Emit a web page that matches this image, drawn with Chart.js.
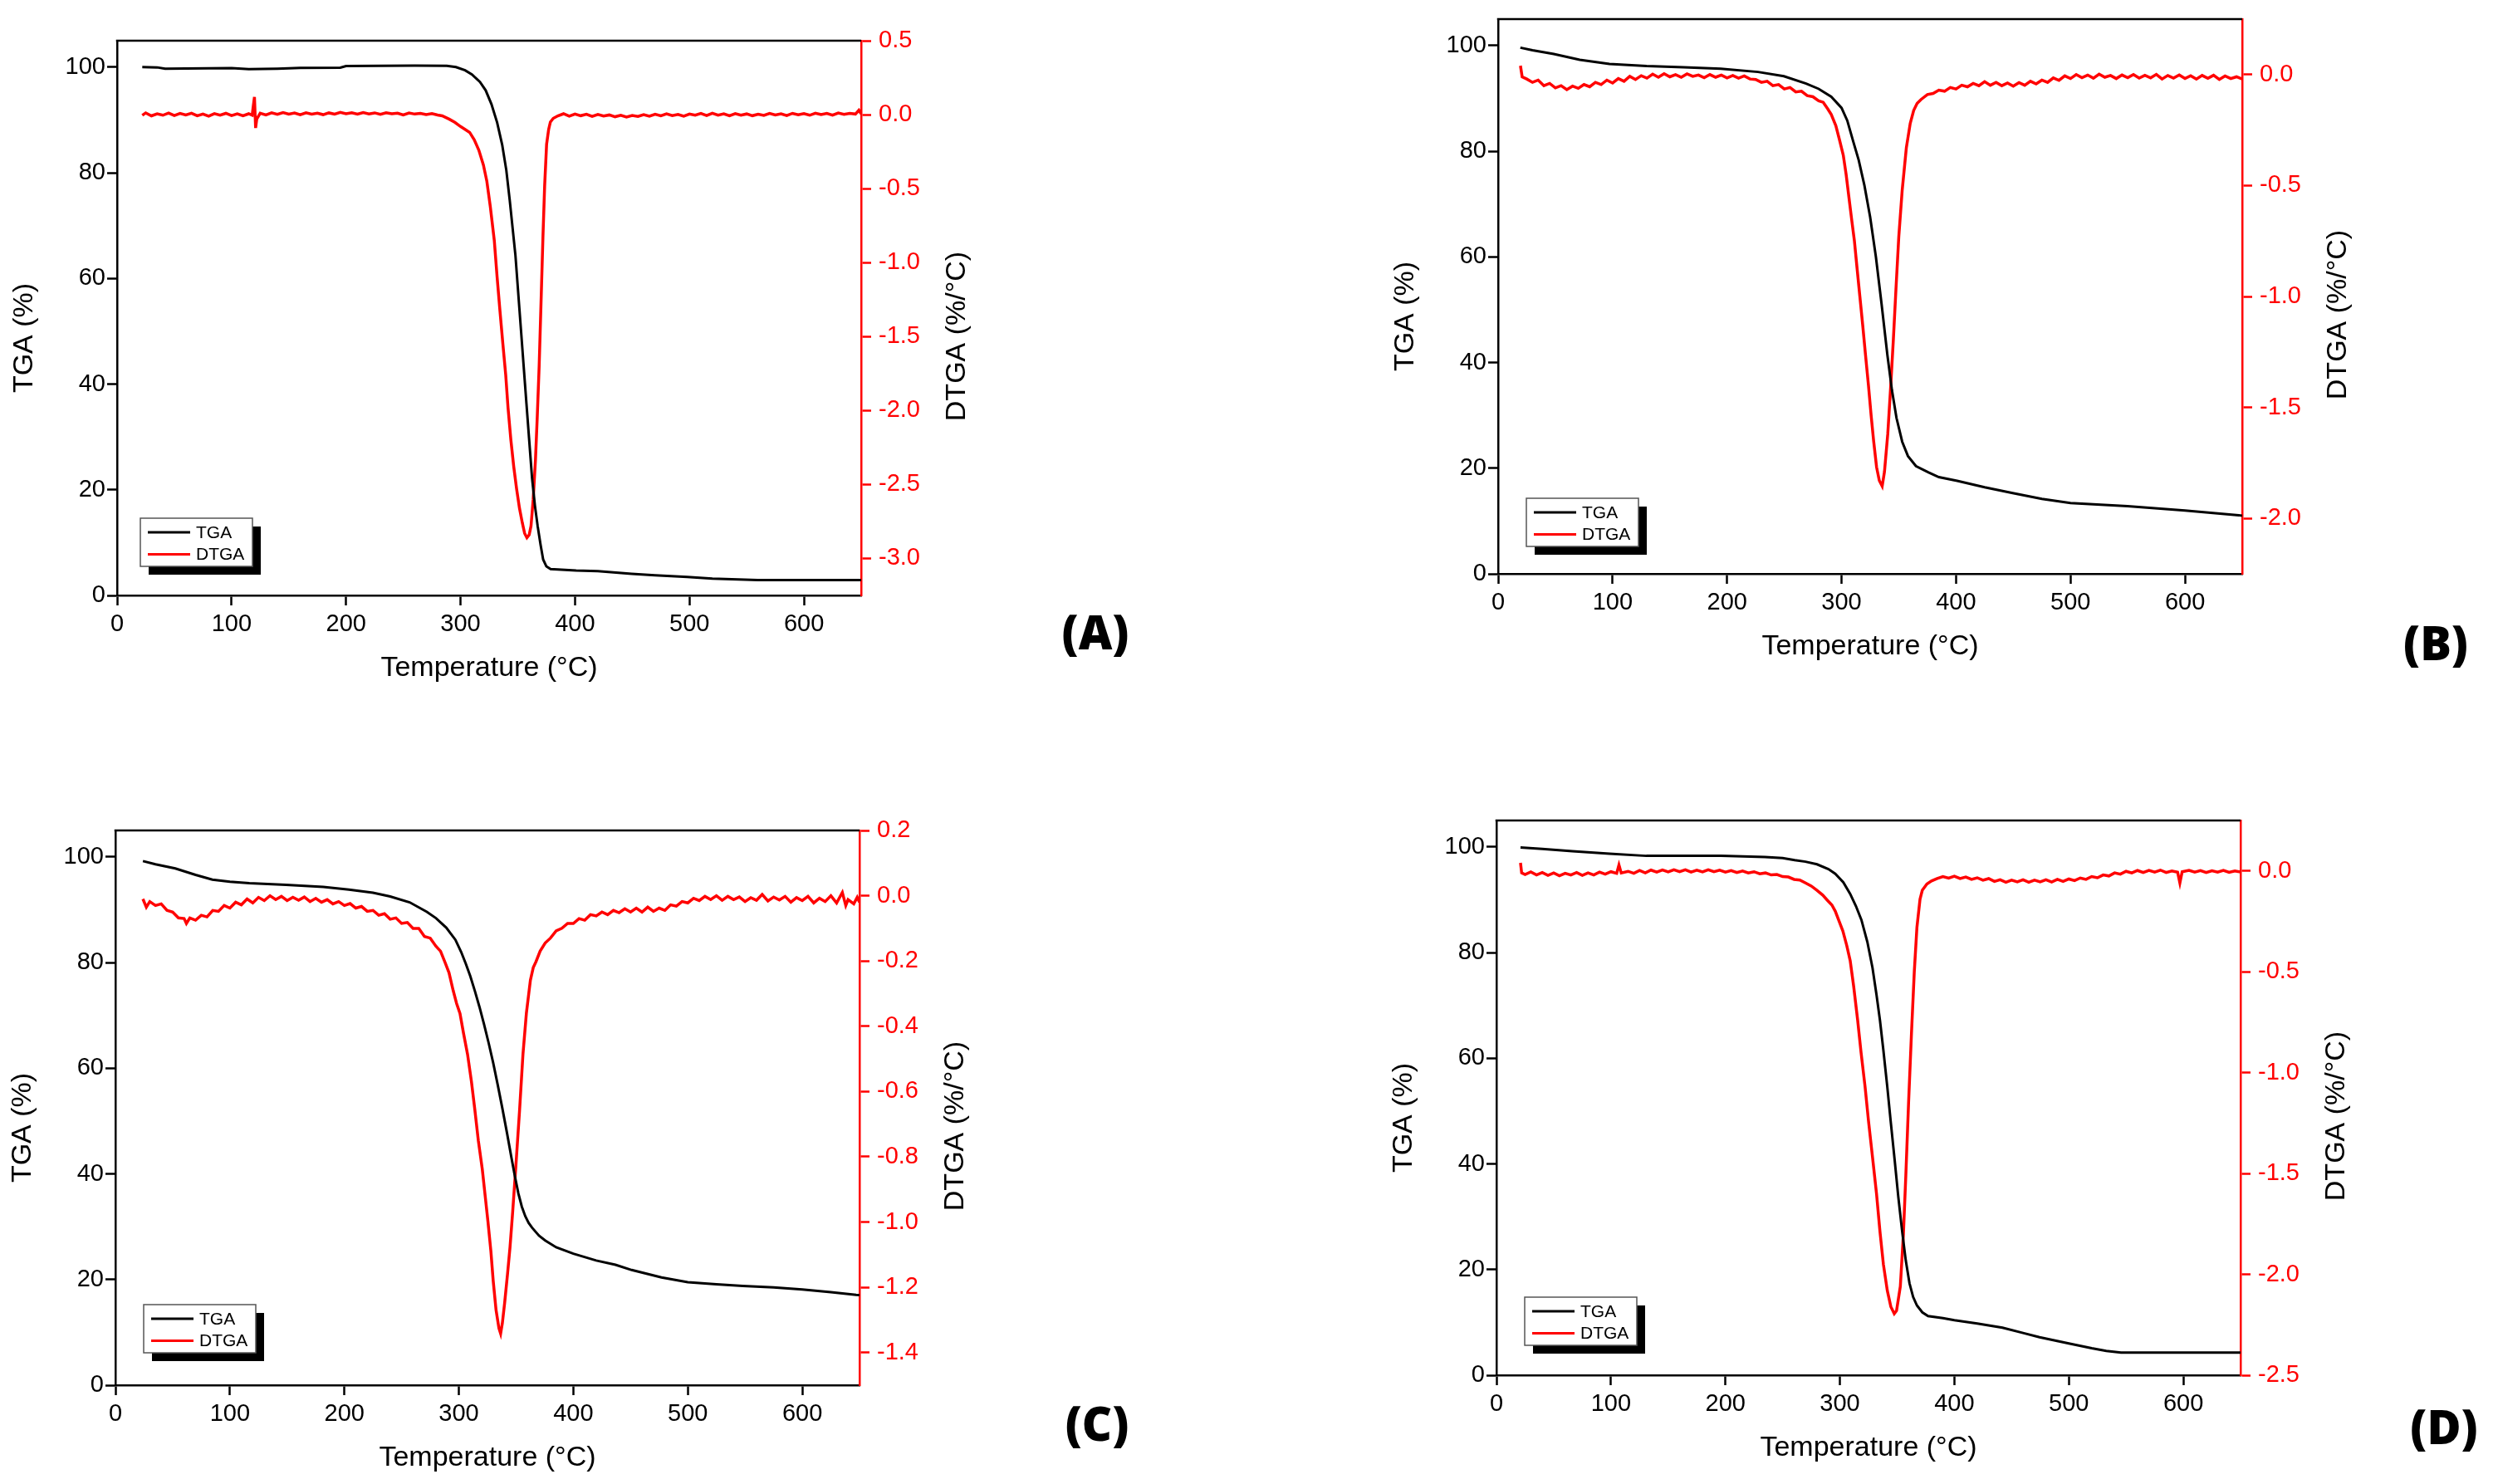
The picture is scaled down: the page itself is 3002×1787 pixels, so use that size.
<!DOCTYPE html>
<html><head><meta charset="utf-8">
<script src="https://cdn.jsdelivr.net/npm/chart.js@4.4.1/dist/chart.umd.min.js"></script>
<style>
html,body{margin:0;padding:0;background:#fff;overflow:hidden;width:3002px;height:1787px;position:relative}
canvas{position:absolute}
.lab{position:absolute;font-family:'Open Sans',sans-serif;font-weight:800;font-size:56px;line-height:1;transform:translate(-50%,-50%);color:#000}
</style></head><body>
<canvas id="cA" width="1236" height="848" style="left:1px;top:-1px"></canvas>
<canvas id="cB" width="1236" height="848" style="left:1664px;top:-27px"></canvas>
<canvas id="cC" width="1236" height="848" style="left:-1px;top:950px"></canvas>
<canvas id="cD" width="1236" height="848" style="left:1662px;top:938px"></canvas>
<div class="lab" style="left:1319px;top:760px">(A)</div>
<div class="lab" style="left:2933px;top:773px">(B)</div>
<div class="lab" style="left:1321px;top:1713px">(C)</div>
<div class="lab" style="left:2943px;top:1717px">(D)</div>
<script>
// ---------- tick labels ----------
const xTicks = [0,100,200,300,400,500,600];
const tgaTicks = [0,20,40,60,80,100];
const dtgTicksA = [-3.0,-2.5,-2.0,-1.5,-1.0,-0.5,0.0,0.5];
const dtgTicksB = [-2.0,-1.5,-1.0,-0.5,0.0];
const dtgTicksC = [-1.4,-1.2,-1.0,-0.8,-0.6,-0.4,-0.2,0.0,0.2];
const dtgTicksD = [-2.5,-2.0,-1.5,-1.0,-0.5,0.0];

// ---------- series: [temperature °C, value] ----------
const tgaA = [[22,100.0],[35,99.95],[42,99.7],[60,99.75],[100,99.8],[115,99.6],[140,99.7],[160,99.85],[195,99.9],[200,100.2],[260,100.3],[288,100.25],[296,100.0],[304,99.4],[310,98.6],[317,97.2],[322,95.6],[327,93.0],[332,89.5],[336.4,85.3],[340,80.5],[343,74.8],[348,64.3],[352.8,50.3],[357.6,36.3],[362.5,22.2],[365,17.0],[367.4,13.1],[370,9.5],[372.2,6.8],[375,5.5],[378.7,5.0],[401,4.7],[420,4.6],[449.6,4.1],[470,3.8],[498,3.5],[520,3.2],[559.6,2.9],[650,2.9]];
const dtgaA = [[22,-0.005],[25,0.012],[30,-0.008],[35,0.006],[40,-0.004],[45,0.011],[50,-0.006],[55,0.008],[60,-0.002],[65,0.01],[70,-0.007],[75,0.004],[80,-0.01],[85,0.007],[90,-0.003],[95,0.009],[100,-0.006],[105,0.005],[110,-0.008],[115,0.006],[118,-0.004],[119,0.06],[120,0.12],[121,-0.09],[122,-0.03],[125,0.01],[130,-0.002],[135,0.012],[140,0.002],[145,0.014],[150,0.004],[155,0.011],[160,-0.001],[165,0.013],[170,0.003],[175,0.01],[180,0.0],[185,0.012],[190,0.004],[195,0.015],[200,0.006],[205,0.013],[210,0.003],[215,0.014],[220,0.005],[225,0.012],[230,0.002],[235,0.013],[240,0.006],[245,0.01],[250,-0.002],[255,0.011],[260,0.004],[265,0.009],[270,0.001],[275,0.007],[280,-0.002],[284,-0.008],[290,-0.03],[295,-0.052],[300,-0.08],[305,-0.105],[308,-0.12],[312,-0.17],[316,-0.24],[320,-0.34],[323,-0.45],[326,-0.62],[329.5,-0.85],[332,-1.10],[334.5,-1.33],[337,-1.55],[339.5,-1.76],[341.5,-1.98],[344,-2.2],[346.5,-2.38],[349,-2.53],[351.5,-2.66],[354,-2.76],[356,-2.83],[358,-2.86],[360,-2.84],[361.6,-2.78],[363.5,-2.6],[365.5,-2.33],[367,-2.05],[368.7,-1.70],[370.3,-1.28],[372,-0.83],[373.5,-0.48],[375.2,-0.2],[377,-0.1],[378.5,-0.05],[381,-0.025],[385,-0.008],[390,0.006],[395,-0.01],[400,0.004],[405,-0.007],[410,0.003],[415,-0.012],[420,0.001],[425,-0.009],[430,-0.002],[435,-0.014],[440,-0.004],[445,-0.016],[450,-0.006],[455,-0.012],[460,0.0],[465,-0.01],[470,0.003],[475,-0.008],[480,0.005],[485,-0.006],[490,0.002],[495,-0.01],[500,0.004],[505,-0.004],[510,0.008],[515,-0.006],[520,0.01],[525,-0.003],[530,0.006],[535,-0.008],[540,0.007],[545,-0.004],[550,0.005],[555,-0.007],[560,0.003],[565,-0.005],[570,0.008],[575,-0.002],[580,0.006],[585,-0.006],[590,0.009],[595,-0.001],[600,0.007],[605,-0.004],[610,0.01],[615,0.0],[620,0.008],[625,-0.003],[630,0.011],[635,0.002],[640,0.009],[645,0.004],[648,0.03],[650,0.005]];

const tgaB = [[19.4,99.6],[30,99.1],[48.6,98.4],[71.3,97.3],[97.2,96.5],[129.7,96.1],[162,95.9],[194.5,95.6],[227,95.0],[249.6,94.2],[269,92.8],[280,91.8],[291,90.3],[300,88.2],[305,85.8],[310,82.0],[315,78.3],[320,73.5],[325,67.5],[330,60.0],[335,51.0],[340,41.5],[344,34.8],[348,29.5],[353,25.0],[358,22.3],[365,20.4],[376,19.2],[385,18.3],[401,17.6],[425,16.4],[449.5,15.3],[475,14.2],[500,13.4],[549.8,12.8],[600,12.0],[647,11.1],[650,11.0]];
const dtgaB = [[19.5,0.04],[21,-0.01],[25,-0.02],[30,-0.035],[35,-0.025],[40,-0.05],[45,-0.04],[50,-0.06],[55,-0.05],[60,-0.068],[65,-0.052],[70,-0.062],[75,-0.045],[80,-0.055],[85,-0.035],[90,-0.045],[95,-0.025],[100,-0.038],[105,-0.018],[110,-0.03],[115,-0.008],[120,-0.022],[125,-0.005],[130,-0.016],[135,0.002],[140,-0.012],[145,0.004],[150,-0.01],[155,0.0],[160,-0.012],[165,0.003],[170,-0.008],[175,-0.002],[180,-0.014],[185,0.0],[190,-0.012],[195,-0.002],[200,-0.015],[205,-0.004],[210,-0.016],[215,-0.006],[220,-0.02],[225,-0.022],[230,-0.035],[235,-0.03],[240,-0.05],[245,-0.045],[250,-0.065],[255,-0.058],[260,-0.078],[265,-0.075],[270,-0.095],[275,-0.1],[280,-0.118],[284,-0.125],[288,-0.155],[291,-0.18],[295,-0.23],[298,-0.29],[301.5,-0.363],[304,-0.45],[306.3,-0.547],[309,-0.66],[311.2,-0.748],[313.5,-0.87],[316,-1.0],[318.5,-1.13],[321,-1.267],[323.5,-1.4],[325.8,-1.534],[328,-1.65],[330.6,-1.769],[333,-1.83],[335.5,-1.855],[337.5,-1.79],[340.4,-1.618],[343,-1.4],[345.2,-1.2],[347.5,-0.97],[350,-0.731],[353,-0.52],[356.6,-0.33],[360,-0.22],[363,-0.162],[366,-0.13],[369.5,-0.112],[375,-0.09],[380,-0.085],[385,-0.07],[390,-0.075],[395,-0.058],[400,-0.065],[405,-0.048],[410,-0.055],[415,-0.04],[420,-0.05],[425,-0.032],[430,-0.048],[435,-0.035],[440,-0.05],[445,-0.038],[450,-0.052],[455,-0.036],[460,-0.048],[465,-0.03],[470,-0.042],[475,-0.025],[480,-0.035],[485,-0.015],[490,-0.026],[495,-0.006],[500,-0.018],[505,0.0],[510,-0.014],[515,-0.002],[520,-0.016],[525,0.002],[530,-0.012],[535,-0.004],[540,-0.018],[545,-0.002],[550,-0.014],[555,0.0],[560,-0.016],[565,-0.003],[570,-0.015],[575,0.001],[580,-0.02],[585,-0.004],[590,-0.016],[595,-0.002],[600,-0.018],[605,-0.005],[610,-0.02],[615,-0.004],[620,-0.017],[625,-0.003],[630,-0.022],[635,-0.006],[640,-0.018],[645,-0.01],[650,-0.02]];

const tgaC = [[24,99.2],[35,98.6],[52.3,97.8],[70,96.6],[84.7,95.7],[100,95.3],[117,95.0],[149,94.7],[181.6,94.3],[204,93.8],[225,93.2],[240,92.5],[257,91.4],[272,89.6],[280,88.4],[289,86.6],[297,84.3],[302,82.0],[306,79.8],[310,77.4],[314,74.6],[318,71.6],[322,68.3],[326,64.8],[330,61.0],[334,56.8],[338,52.4],[342,47.8],[346,43.0],[349,39.5],[352,36.3],[355,33.8],[358,32.0],[361,30.7],[364,29.8],[370,28.3],[375.4,27.4],[385,26.1],[400,24.9],[420,23.6],[436.8,22.8],[451,21.8],[477,20.4],[500,19.5],[525,19.1],[548,18.8],[575,18.5],[600,18.1],[625,17.6],[647,17.1],[650,17.05]];
const dtgaC = [[24,-0.01],[27,-0.035],[30,-0.018],[35,-0.03],[40,-0.025],[45,-0.045],[50,-0.05],[55,-0.068],[60,-0.07],[62,-0.085],[65,-0.068],[70,-0.075],[75,-0.06],[80,-0.065],[85,-0.045],[90,-0.048],[95,-0.03],[100,-0.038],[105,-0.02],[110,-0.028],[115,-0.01],[120,-0.022],[125,-0.005],[130,-0.015],[135,0.0],[140,-0.012],[145,-0.002],[150,-0.015],[155,-0.005],[160,-0.014],[165,-0.004],[170,-0.018],[175,-0.008],[180,-0.02],[185,-0.012],[190,-0.025],[195,-0.018],[200,-0.03],[205,-0.024],[210,-0.038],[215,-0.033],[220,-0.048],[225,-0.045],[230,-0.06],[235,-0.055],[240,-0.072],[245,-0.068],[250,-0.085],[255,-0.082],[260,-0.1],[265,-0.1],[270,-0.125],[275,-0.13],[280,-0.155],[284,-0.17],[288,-0.205],[291.4,-0.236],[295,-0.29],[298,-0.33],[301,-0.361],[304,-0.42],[307.6,-0.486],[311,-0.57],[314,-0.657],[317,-0.75],[320.5,-0.839],[323,-0.92],[325.4,-0.998],[328,-1.09],[330,-1.18],[332.5,-1.27],[335,-1.325],[336.5,-1.342],[338,-1.31],[340,-1.248],[342.5,-1.16],[344.7,-1.077],[347,-0.97],[349.6,-0.839],[353,-0.66],[356,-0.486],[359,-0.36],[362.5,-0.259],[365,-0.22],[367.4,-0.202],[371,-0.17],[375.4,-0.145],[380,-0.13],[385,-0.108],[390,-0.1],[395,-0.085],[400,-0.085],[405,-0.07],[410,-0.075],[415,-0.058],[420,-0.062],[425,-0.05],[430,-0.058],[435,-0.045],[440,-0.052],[445,-0.04],[450,-0.05],[455,-0.038],[460,-0.05],[465,-0.035],[470,-0.048],[475,-0.038],[480,-0.045],[485,-0.028],[490,-0.032],[495,-0.018],[500,-0.022],[505,-0.008],[510,-0.015],[515,-0.002],[520,-0.012],[525,0.0],[530,-0.014],[535,-0.002],[540,-0.012],[545,-0.004],[550,-0.018],[555,-0.006],[560,-0.014],[565,0.004],[570,-0.016],[575,-0.004],[580,-0.013],[585,-0.002],[590,-0.02],[595,-0.006],[600,-0.015],[605,-0.002],[610,-0.022],[615,-0.008],[620,-0.018],[625,0.0],[630,-0.022],[635,0.01],[638,-0.03],[640,-0.012],[645,-0.025],[648,-0.005],[650,-0.02]];

const tgaD = [[21,99.9],[40,99.6],[66.3,99.2],[98.7,98.7],[131,98.3],[163,98.3],[196,98.3],[234.6,98.1],[250,97.9],[260.5,97.5],[270,97.2],[280,96.7],[290,95.8],[296,94.9],[303,93.3],[309,91.1],[314,88.8],[318.8,86.2],[324,82.0],[328.5,77.1],[332,72.0],[335,67.2],[338,61.5],[341.4,54.6],[344.5,47.8],[347.9,40.6],[351,33.8],[354.4,27.2],[357.5,21.8],[360.8,17.4],[364,14.8],[367.3,13.2],[372,11.9],[377,11.2],[390,10.8],[400,10.4],[420,9.8],[442,9.0],[460,8.0],[474.4,7.2],[500,6.0],[520,5.1],[532.7,4.6],[545.6,4.3],[650,4.3]];
const dtgaD = [[21,0.04],[22,-0.01],[25,-0.018],[30,-0.005],[35,-0.02],[40,-0.008],[45,-0.022],[50,-0.01],[55,-0.024],[60,-0.012],[65,-0.02],[70,-0.008],[75,-0.022],[80,-0.01],[85,-0.02],[90,-0.006],[95,-0.016],[100,-0.004],[105,-0.012],[107,0.03],[109,-0.01],[115,-0.002],[120,-0.012],[125,0.002],[130,-0.01],[135,0.004],[140,-0.006],[145,0.005],[150,-0.005],[155,0.006],[160,-0.004],[165,0.006],[170,-0.006],[175,0.004],[180,-0.005],[185,0.006],[190,-0.004],[195,0.004],[200,-0.006],[205,0.002],[210,-0.008],[215,0.0],[220,-0.01],[225,-0.004],[230,-0.014],[235,-0.01],[240,-0.02],[245,-0.018],[250,-0.028],[255,-0.03],[260,-0.042],[265,-0.045],[270,-0.06],[275,-0.075],[280,-0.096],[285,-0.12],[289,-0.145],[293,-0.169],[296,-0.2],[299,-0.245],[302.6,-0.298],[306,-0.37],[309,-0.445],[312,-0.57],[315.5,-0.739],[318.5,-0.9],[322,-1.07],[325,-1.24],[328.5,-1.419],[332,-1.6],[335,-1.787],[338,-1.95],[341.4,-2.08],[344.5,-2.16],[347.5,-2.195],[349.5,-2.18],[352.8,-2.06],[355.5,-1.8],[357.6,-1.51],[360,-1.15],[362.5,-0.81],[365,-0.5],[367.3,-0.28],[370,-0.14],[372,-0.096],[376,-0.065],[380,-0.05],[385,-0.038],[390,-0.028],[395,-0.036],[400,-0.026],[405,-0.038],[410,-0.03],[415,-0.042],[420,-0.034],[425,-0.046],[430,-0.038],[435,-0.052],[440,-0.044],[445,-0.056],[450,-0.046],[455,-0.054],[460,-0.044],[465,-0.056],[470,-0.046],[475,-0.054],[480,-0.044],[485,-0.055],[490,-0.042],[495,-0.052],[500,-0.04],[505,-0.048],[510,-0.035],[515,-0.042],[520,-0.028],[525,-0.034],[530,-0.02],[535,-0.025],[540,-0.01],[545,-0.016],[550,-0.002],[555,-0.01],[560,0.002],[565,-0.008],[570,0.003],[575,-0.006],[580,0.004],[585,-0.008],[590,0.0],[595,-0.006],[597,-0.06],[599,-0.004],[605,0.003],[610,-0.006],[615,0.002],[620,-0.008],[625,0.001],[630,-0.006],[635,0.003],[640,-0.007],[645,0.0],[650,-0.005]];

// ---------- rendering ----------
const FONT = "'Liberation Sans', Arial, sans-serif";
const RED = '#ff0000';

const framePlugin = {
  id: 'frame',
  afterDraw(chart, args, o) {
    const {ctx, chartArea: a} = chart;
    ctx.save();
    ctx.strokeStyle = '#000'; ctx.lineWidth = 2.5;
    ctx.beginPath(); ctx.moveTo(a.left - 1.25, a.top); ctx.lineTo(a.right, a.top); ctx.stroke();
    const lx = a.left + o.lx, ly = a.bottom + o.ly, w = 135, h = 58;
    ctx.fillStyle = '#000'; ctx.fillRect(lx + 10, ly + 10, w, h);
    ctx.fillStyle = '#fff'; ctx.fillRect(lx, ly, w, h);
    ctx.strokeStyle = '#555'; ctx.lineWidth = 1.5; ctx.strokeRect(lx, ly, w, h);
    const rows = [['TGA', '#000', 17], ['DTGA', RED, 43.5]];
    ctx.font = '21px ' + FONT; ctx.textAlign = 'left'; ctx.textBaseline = 'middle';
    rows.forEach(([t, c, dy]) => {
      ctx.strokeStyle = c; ctx.lineWidth = 3;
      ctx.beginPath(); ctx.moveTo(lx + 9, ly + dy); ctx.lineTo(lx + 60, ly + dy); ctx.stroke();
      ctx.fillStyle = '#000'; ctx.fillText(t, lx + 67, ly + dy + 1);
    });
    ctx.font = '34px ' + FONT; ctx.fillStyle = '#000'; ctx.textAlign = 'center'; ctx.textBaseline = 'middle';
    const cy = (a.top + a.bottom) / 2;
    ctx.fillText('Temperature (°C)', (a.left + a.right) / 2, a.bottom + 88);
    ctx.save(); ctx.translate(a.left - 111, cy + 24); ctx.rotate(-Math.PI / 2); ctx.fillText('TGA (%)', 0, 0); ctx.restore();
    ctx.save(); ctx.translate(a.right + 116, cy + 22); ctx.rotate(-Math.PI / 2); ctx.fillText('DTGA (%/°C)', 0, 0); ctx.restore();
    ctx.restore();
  }
};

function pts(arr) { return arr.map(p => ({x: p[0], y: p[1]})); }

function makePanel(id, tga, dtga, y1min, y1max, y1ticks, legend) {
  new Chart(document.getElementById(id), {
    type: 'line',
    data: {datasets: [
      {label: 'TGA', data: pts(tga), borderColor: '#000', borderWidth: 3, pointRadius: 0, tension: 0, yAxisID: 'y', order: 1},
      {label: 'DTGA', data: pts(dtga), borderColor: RED, borderWidth: 3.5, pointRadius: 0, tension: 0, yAxisID: 'y1', order: 2}
    ]},
    options: {
      responsive: false, animation: false, events: [],
      layout: {padding: {top: 50, left: 0, right: 0, bottom: 0}},
      plugins: {legend: {display: false}, tooltip: {enabled: false}, frame: legend},
      scales: {
        x: {
          type: 'linear', position: 'bottom', min: 0, max: 650,
          afterBuildTicks: s => { s.ticks = xTicks.map(v => ({value: v})); },
          afterFit: s => { s.height = 130; },
          border: {display: true, color: '#000', width: 2.5},
          grid: {drawOnChartArea: false, drawTicks: true, tickLength: 12, tickWidth: 2.5, tickColor: '#000', color: '#000'},
          ticks: {color: '#000', font: {family: FONT, size: 29}, padding: 6, maxRotation: 0, autoSkip: false, callback: v => String(v)}
        },
        y: {
          type: 'linear', position: 'left', min: 0, max: 105,
          afterBuildTicks: s => { s.ticks = tgaTicks.map(v => ({value: v})); },
          afterFit: s => { s.width = 140; },
          border: {display: true, color: '#000', width: 2.5},
          grid: {drawOnChartArea: false, drawTicks: true, tickLength: 12, tickWidth: 2.5, tickColor: '#000', color: '#000'},
          ticks: {color: '#000', font: {family: FONT, size: 29}, padding: 2, autoSkip: false, callback: v => String(v)}
        },
        y1: {
          type: 'linear', position: 'right', min: y1min, max: y1max,
          afterBuildTicks: s => { s.ticks = y1ticks.map(v => ({value: v})); },
          afterFit: s => { s.width = 200; },
          border: {display: true, color: RED, width: 2.5},
          grid: {drawOnChartArea: false, drawTicks: true, tickLength: 12, tickWidth: 2.5, tickColor: RED, color: RED},
          ticks: {color: RED, font: {family: FONT, size: 29}, padding: 9, autoSkip: false, callback: v => Number(v).toFixed(1)}
        }
      }
    },
    plugins: [framePlugin]
  });
}

makePanel('cA', tgaA, dtgaA, -3.25, 0.5, dtgTicksA, {lx: 28, ly: -93});
makePanel('cB', tgaB, dtgaB, -2.25, 0.25, dtgTicksB, {lx: 34, ly: -91});
makePanel('cC', tgaC, dtgaC, -1.5, 0.2, dtgTicksC, {lx: 34, ly: -97});
makePanel('cD', tgaD, dtgaD, -2.5, 0.25, dtgTicksD, {lx: 34, ly: -94});
</script>
</body></html>
